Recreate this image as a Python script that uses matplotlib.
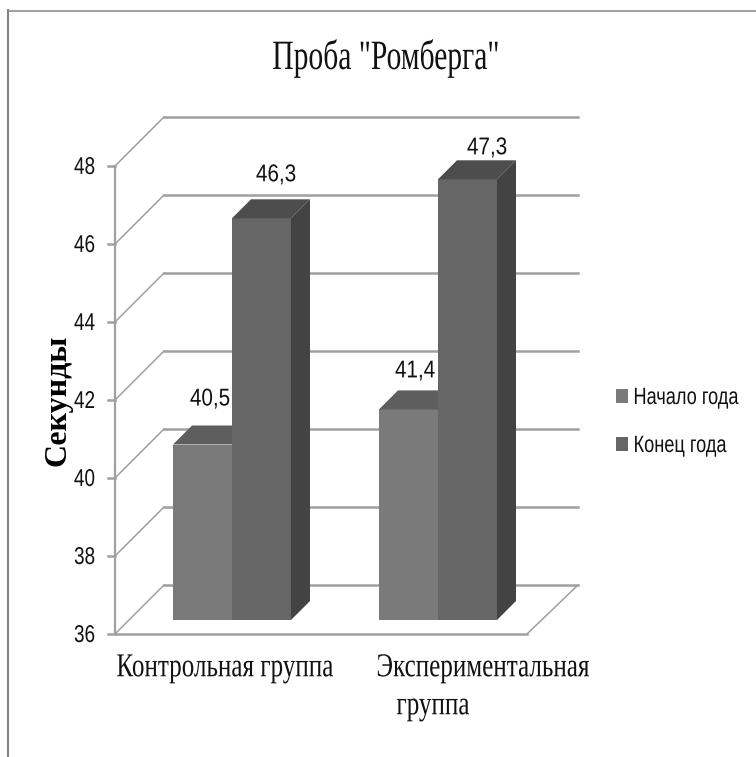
"""Bar chart with a drawn-in depth effect: Romberg test, start and end of year."""

import matplotlib
matplotlib.use("Agg")
import matplotlib.patheffects as pe
import matplotlib.pyplot as plt
from matplotlib.transforms import Affine2D

groups = ["Контрольная группа", "Экспериментальная\nгруппа"]
series_names = ["Начало года", "Конец года"]
start_values = [40.5, 41.4]
end_values = [46.3, 47.3]
value_labels = [["40,5", "41,4"], ["46,3", "47,3"]]
y_ticks = [36, 38, 40, 42, 44, 46, 48]

FRONT = ["#7a7a7a", "#666666"]
TOP = ["#5e5e5e", "#4d4d4d"]
SIDE = "#434343"
GRID = "#a0a0a0"
FRAME = "#858585"

W, H = 756, 757
PX = 39.0  # pixels per second on the value axis
Y0 = 634   # pixel row of the axis minimum
DEPTH_WALL = 49
DEPTH_BAR = 19
BASE_LIFT = 14
SANS = "Liberation Sans"
SERIF = "Liberation Serif"


class Squeeze(pe.AbstractPathEffect):
    """Condense text horizontally around a fixed pixel column."""

    def __init__(self, sx, cx):
        super().__init__()
        self.sx = sx
        self.cx = cx

    def draw_path(self, renderer, gc, tpath, affine, rgbFace=None):
        squeeze = Affine2D().translate(-self.cx, 0).scale(self.sx, 1).translate(self.cx, 0)
        renderer.draw_path(gc, tpath, affine + squeeze, rgbFace)


fig = plt.figure(figsize=(W / 100, H / 100), dpi=100)
ax = fig.add_axes([0, 0, 1, 1])
ax.set_xlim(0, W)
ax.set_ylim(36 - (H - Y0) / PX, 36 + Y0 / PX)
ax.axis("off")


def up(px):
    # pixel height expressed in value units
    return px / PX


def row(py):
    # pixel row from the top, as a value on the y axis
    return 36 + (Y0 - py) / PX


def label(x, py, s, size, sx, family=SANS):
    # condensed text, centred on pixel column x
    ax.text(x, row(py), s, ha="center", va="center", fontsize=size, family=family,
            color="#111111", zorder=6, path_effects=[Squeeze(sx, x)])


# outer frame
ax.plot([8, 8], [row(H), row(10)], color=FRAME, lw=1.5)
ax.plot([8, W], [row(10.5), row(10.5)], color=FRAME, lw=1.1)

# back wall gridlines, slanted side wall and front axis
x_front, x_back, x_right = 115, 164, 578
for v in y_ticks:
    ax.plot([x_back, x_right], [v + up(DEPTH_WALL)] * 2, color=GRID, lw=1.8, zorder=1)
    ax.plot([x_front, x_back], [v, v + up(DEPTH_WALL)], color=GRID, lw=1.1, zorder=1)
    ax.plot([x_front - 7, x_front], [v, v], color=GRID, lw=1.8, zorder=1)
ax.plot([x_front, x_front], [y_ticks[0], y_ticks[-1]], color=GRID, lw=1.6, zorder=1)

# floor
ax.plot([x_front, 527], [36, 36], color=GRID, lw=1.8, zorder=1)
ax.plot([527, x_right], [36, 36 + up(DEPTH_WALL)], color=GRID, lw=1.1, zorder=1)

for v in y_ticks:
    label(84.5, Y0 - (v - 36) * PX + 2, str(v), 17.5, 0.78)

# bars: left edges of each group, two bars side by side
bar_w = 59
group_x = [173, 379]
bottom = 36 + up(BASE_LIFT)
for s, values in enumerate([start_values, end_values]):
    for g, v in enumerate(values):
        x0 = group_x[g] + s * bar_w
        x1 = x0 + bar_w
        top = v + up(BASE_LIFT)
        d = DEPTH_BAR
        ax.fill([x1, x1 + d, x1 + d, x1],
                [bottom, bottom + up(d), top + up(d), top],
                color=SIDE, lw=0, zorder=2 + s)
        ax.bar(x0, top - bottom, width=bar_w, bottom=bottom, align="edge",
               color=FRONT[s], lw=0, zorder=2 + s)
        ax.fill([x0, x0 + d, x1 + d, x1],
                [top, top + up(d), top + up(d), top],
                color=TOP[s], lw=0, zorder=2 + s)

# value labels, offset from each bar top in pixels
label_shift = [[(37, 45), (36, 38)], [(44, 43), (49, 31)]]
for s, values in enumerate([start_values, end_values]):
    for g, v in enumerate(values):
        dx, dy = label_shift[s][g]
        py = Y0 - BASE_LIFT - (v - 36) * PX - dy
        label(group_x[g] + s * bar_w + dx, py, value_labels[s][g], 17.5, 0.85)

label(386, 58, 'Проба "Ромберга"', 30, 0.71, family=SERIF)
ax.text(58, row(400), "Секунды", rotation=90, ha="center", va="center",
        fontsize=23, family=SERIF, fontweight="bold", color="#000000")

# category labels, the long one broken over two lines
label(225, 668, groups[0], 24, 0.753, family=SERIF)
first, second = groups[1].split("\n")
label(483, 668, first, 24, 0.753, family=SERIF)
label(433, 706, second, 24, 0.753, family=SERIF)

# legend
legend_centers = [686, 680]
for s, name in enumerate(series_names):
    py = 396 + s * 48
    ax.fill([616, 628, 628, 616],
            [row(py + 7), row(py + 7), row(py - 7), row(py - 7)],
            color=FRONT[s], lw=0)
    label(legend_centers[s], py + 2, name, 17, 0.77)

fig.savefig("out.png", dpi=100)
plt.close(fig)
